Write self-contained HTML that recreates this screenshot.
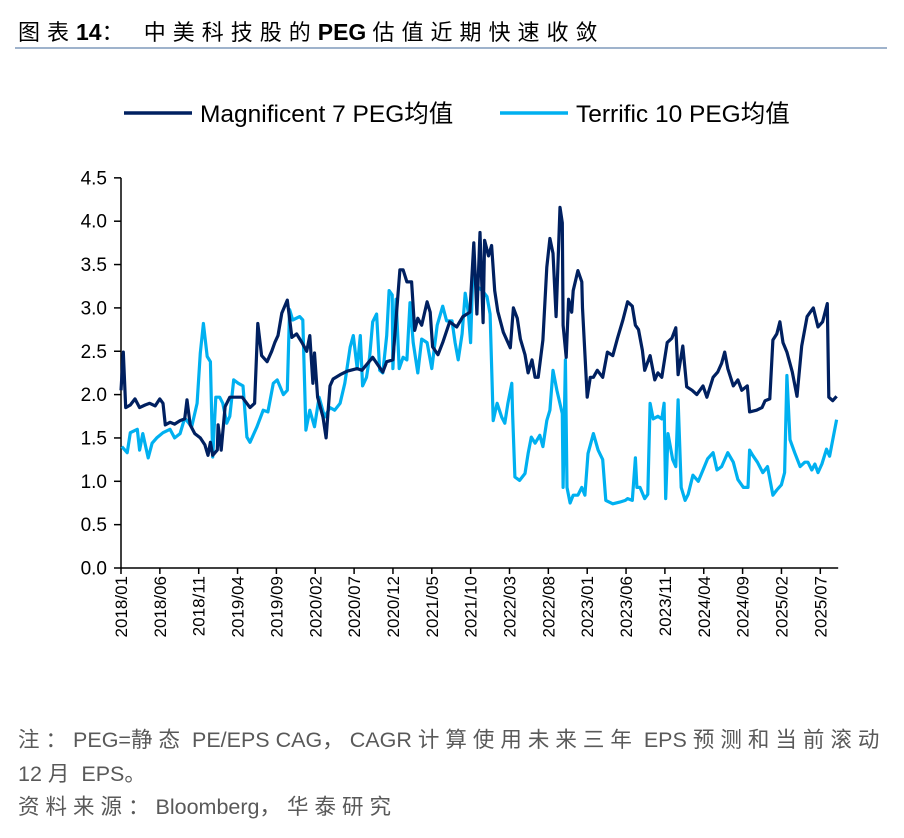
<!DOCTYPE html>
<html><head><meta charset="utf-8">
<style>
body{margin:0;background:#fff;width:904px;height:838px;overflow:hidden;font-family:"Liberation Sans","Noto Sans CJK SC",sans-serif;}
.title{position:absolute;left:18px;top:15px;font-size:22px;color:#000;white-space:nowrap;}
.title b{font-weight:bold;font-size:23px;}
.cj{letter-spacing:7px;}
.rule{position:absolute;left:15px;top:47px;width:872px;height:2px;background:#9fb3cc;}
.note{position:absolute;left:18px;font-size:21.5px;color:#595959;white-space:nowrap;}
.note .c{letter-spacing:6px;}
</style></head><body>
<div class="title"><span class="cj">图表</span><b>14</b><span class="cj">：&nbsp;中美科技股的</span><b>PEG</b> <span class="cj">估值近期快速收敛</span></div>
<div class="rule"></div>
<svg id="chart" width="904" height="838" style="position:absolute;left:0;top:0"></svg>
<div class="note" style="top:723px"><span class="c">注：</span>PEG=<span class="c">静态</span> PE/EPS CAG<span class="c">，</span>CAGR <span class="c">计算使用未来三年</span> EPS <span class="c">预测和当前滚动</span></div>
<div class="note" style="top:757px">12 <span class="c">月</span> EPS<span class="c">。</span></div>
<div class="note" style="top:790px"><span class="c">资料来源：</span>Bloomberg<span class="c">，华泰研究</span></div>
<script>
const tickLabels=["2018/01","2018/06","2018/11","2019/04","2019/09","2020/02","2020/07","2020/12","2021/05","2021/10","2022/03","2022/08","2023/01","2023/06","2023/11","2024/04","2024/09","2025/02","2025/07"];
const yTicks=[0,0.5,1,1.5,2,2.5,3,3.5,4,4.5];
const m7Months=[0,0.3,0.6,1.2,1.8,2.4,3.1,3.7,4.4,5.0,5.4,5.7,6.3,6.9,7.6,8.2,8.5,8.9,9.5,10.2,10.8,11.2,11.5,11.8,12.4,12.5,12.9,13.4,14.0,15.6,16.6,17.2,17.6,18.1,18.8,19.4,19.8,20.2,20.7,21.4,22.0,22.6,23.3,23.9,24.3,24.7,24.9,25.3,26.0,26.4,26.9,27.3,28.2,29.1,30.4,31.0,32.4,33.7,34.2,35.0,35.9,36.3,36.8,37.4,37.8,38.2,38.7,39.4,39.8,40.1,40.8,41.4,42.3,43.2,44.0,44.9,45.4,45.8,46.2,46.6,46.8,47.3,47.7,48.1,48.5,49.2,50.1,50.5,51.0,51.4,52.0,52.4,52.9,53.3,53.7,54.3,54.8,55.2,55.6,56.0,56.5,56.8,56.9,57.3,57.6,58.0,58.2,58.8,59.3,59.4,60.0,60.4,60.8,61.3,62.0,62.6,63.3,63.9,64.6,65.2,65.8,66.2,66.6,67.1,67.4,68.1,68.7,69.1,69.6,70.3,70.9,71.4,71.7,72.3,72.8,73.5,74.1,74.9,75.4,76.2,76.8,77.3,77.7,78.1,78.8,79.4,79.9,80.6,80.9,81.8,82.5,82.9,83.5,83.9,84.4,84.8,85.2,85.7,86.4,87.0,87.6,88.3,88.7,89.1,89.7,90.3,90.9,91.1,91.6,92.1];
const m7Values=[2.05,2.49,1.85,1.88,1.95,1.85,1.88,1.9,1.87,1.95,1.9,1.65,1.68,1.66,1.7,1.72,1.94,1.65,1.55,1.5,1.42,1.3,1.45,1.3,1.36,1.65,1.36,1.86,1.97,1.97,1.85,1.9,2.82,2.45,2.38,2.5,2.6,2.68,2.94,3.09,2.66,2.7,2.6,2.5,2.68,2.13,2.48,1.97,1.74,1.5,2.1,2.18,2.23,2.27,2.3,2.28,2.43,2.26,2.38,2.4,3.44,3.44,3.3,3.3,2.74,2.88,2.8,3.07,2.95,2.55,2.46,2.6,2.84,2.78,2.9,2.95,3.75,2.93,3.87,2.83,3.78,3.6,3.72,3.2,2.96,2.72,2.54,3.0,2.88,2.64,2.46,2.25,2.4,2.2,2.2,2.63,3.47,3.8,3.63,2.9,4.16,3.98,2.8,2.43,3.1,2.95,3.2,3.43,3.3,3.0,1.97,2.2,2.2,2.28,2.2,2.49,2.45,2.65,2.86,3.07,3.02,2.8,2.75,2.51,2.28,2.45,2.17,2.25,2.2,2.6,2.65,2.77,2.23,2.56,2.09,2.05,2.0,2.1,1.97,2.2,2.26,2.36,2.49,2.3,2.1,2.17,2.05,2.1,1.8,1.82,1.85,1.93,1.95,2.63,2.7,2.84,2.6,2.49,2.26,1.98,2.56,2.9,2.95,3.0,2.78,2.84,3.05,1.97,1.93,1.98];
const t10Months=[0.1,0.8,1.2,2.1,2.4,2.8,3.5,4.0,4.6,5.4,6.3,6.9,7.6,8.2,9.1,9.8,10.2,10.6,11.1,11.5,11.8,12.2,12.7,13.1,13.6,14.0,14.5,15.1,15.7,16.2,16.6,17.5,18.3,18.9,19.6,20.1,20.9,21.4,21.7,22.1,23.0,23.4,23.8,24.3,24.9,25.5,26.2,26.9,27.5,28.2,28.8,29.5,29.9,30.4,30.8,31.1,31.6,32.0,32.4,32.9,33.3,33.7,34.2,34.5,34.9,35.0,35.4,35.8,36.3,36.8,37.2,37.6,38.2,38.7,39.4,40.0,40.7,41.4,41.9,42.6,43.0,43.4,43.9,44.3,44.7,45.0,45.3,45.8,46.5,47.1,47.5,47.9,48.4,49.0,49.4,49.8,50.3,50.4,50.7,51.3,52.0,52.4,52.8,53.3,53.9,54.3,54.8,55.2,55.6,56.1,56.8,56.9,57.2,57.4,57.8,58.2,58.8,59.3,59.7,60.1,60.8,61.4,62.0,62.4,63.3,64.2,64.9,65.2,65.8,66.2,66.4,66.8,67.4,67.8,68.1,68.5,69.1,69.6,69.9,70.1,70.4,71.0,71.4,71.7,72.1,72.6,73.0,73.6,74.3,74.9,75.5,76.2,76.7,77.3,77.7,78.1,78.8,79.4,80.1,80.7,80.9,81.3,81.9,82.6,83.2,83.9,84.4,85.0,85.4,85.7,86.1,86.7,87.4,88.0,88.4,88.9,89.3,89.7,90.2,90.8,91.2,92.1];
const t10Values=[1.4,1.33,1.56,1.6,1.36,1.55,1.27,1.44,1.5,1.56,1.6,1.5,1.55,1.73,1.63,1.9,2.48,2.82,2.44,2.38,1.28,1.97,1.97,1.9,1.67,1.75,2.17,2.13,2.1,1.51,1.45,1.63,1.82,1.8,2.13,2.17,2.0,2.05,2.98,2.86,2.9,2.86,1.59,1.82,1.63,1.97,1.74,1.85,1.82,1.9,2.13,2.55,2.68,2.3,2.68,2.1,2.2,2.43,2.84,2.93,2.28,2.25,2.68,3.2,3.15,2.3,3.1,2.3,2.43,2.4,3.06,2.6,2.25,2.64,2.6,2.3,2.8,3.02,2.85,2.85,2.6,2.4,2.7,3.17,2.95,2.6,3.47,3.25,3.2,3.13,2.93,1.7,1.9,1.74,1.67,1.9,2.13,1.78,1.05,1.01,1.09,1.32,1.51,1.44,1.53,1.4,1.7,1.82,2.28,2.05,1.78,0.93,2.4,0.93,0.75,0.84,0.84,0.93,0.84,1.32,1.55,1.36,1.25,0.78,0.74,0.76,0.78,0.8,0.78,1.27,0.93,0.93,0.8,0.85,1.9,1.72,1.75,1.72,1.9,0.8,1.55,1.25,1.17,1.94,0.93,0.78,0.85,1.07,1.0,1.13,1.26,1.33,1.13,1.17,1.25,1.33,1.22,1.02,0.93,0.93,1.36,1.3,1.22,1.1,1.17,0.84,0.9,0.96,1.1,2.22,1.48,1.33,1.17,1.22,1.22,1.13,1.2,1.1,1.2,1.37,1.29,1.71];

const NS="http://www.w3.org/2000/svg";
const svg=document.getElementById('chart');
const X0=121,PXM=7.77,Y0=568,PXU=86.7;
const xs=m=>X0+m*PXM, ys=v=>Y0-v*PXU;
function mk(tag,attrs,parent){const e=document.createElementNS(NS,tag);for(const k in attrs)e.setAttribute(k,attrs[k]);(parent||svg).appendChild(e);return e;}

const ya=mk('line',{x1:X0,y1:ys(4.5),x2:X0,y2:Y0,stroke:'#000','stroke-width':1.5});


yTicks.forEach(v=>{
  const t=mk('line',{x1:X0-7,y1:ys(v),x2:X0,y2:ys(v),stroke:'#000','stroke-width':1.5});
  
  
  const l=mk('text',{x:X0-14,y:ys(v)+6.5,'text-anchor':'end','font-size':19,'font-family':'Liberation Sans, sans-serif',fill:'#000'});
  l.textContent=v.toFixed(1);
  
  
});
const xa=mk('line',{x1:X0,y1:Y0,x2:xs(92.3),y2:Y0,stroke:'#000','stroke-width':1.5});


tickLabels.forEach((s,i)=>{
  const x=xs(i*5);
  const t=mk('line',{x1:x,y1:Y0,x2:x,y2:Y0+6,stroke:'#000','stroke-width':1.5});
  
  
  const l=mk('text',{x:0,y:0,'text-anchor':'end','font-size':17,'font-family':'Liberation Sans, sans-serif',fill:'#000',transform:`translate(${x+6},${Y0+8}) rotate(-90)`});
  l.textContent=s;
  
  
});
function series(ms,vs,color,name){
  const d=ms.map((m,i)=>(i?'L':'M')+xs(m).toFixed(1)+','+ys(vs[i]).toFixed(1)).join('');
  const p=mk('path',{d:d,fill:'none',stroke:color,'stroke-width':3.2,'stroke-linejoin':'round'});
  
  
}
series(t10Months,t10Values,'#00b0f0','terrific10-line');
series(m7Months,m7Values,'#002060','magnificent7-line');

function legend(x,color,label,name){
  const g=mk('g',{});
  
  
  mk('line',{x1:x,y1:113,x2:x+68,y2:113,stroke:color,'stroke-width':3.5},g);
  const t=mk('text',{x:x+76,y:122,'font-size':24.5,'font-family':'Liberation Sans, Noto Sans CJK SC, sans-serif',fill:'#000'},g);
  t.textContent=label;
}
legend(124,'#002060','Magnificent 7 PEG均值','legend-magnificent7');
legend(500,'#00b0f0','Terrific 10 PEG均值','legend-terrific10');
</script>
</body></html>
